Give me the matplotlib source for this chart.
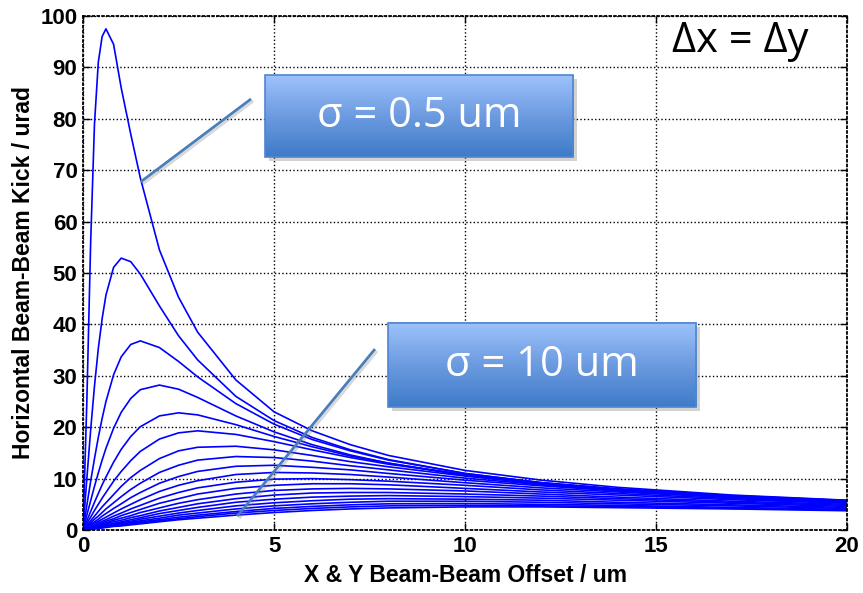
import matplotlib
matplotlib.use("Agg")
import matplotlib.pyplot as plt
import numpy as np
from matplotlib.colors import LinearSegmentedColormap
from matplotlib.patches import Rectangle
import matplotlib.patheffects as pe

plt.rcParams['font.family'] = ['Liberation Sans', 'DejaVu Sans']

# beam-beam offset (um), shared by all curves
offset = [0, 0.1, 0.2, 0.3, 0.4, 0.5, 0.6, 0.8, 1.0, 1.25, 1.5, 2, 2.5, 3, 4, 5,
          6, 7, 8, 10, 12, 14, 17, 20]

sigmas = [0.5, 1, 1.5, 2, 2.5, 3, 3.5, 4, 4.5, 5, 5.5, 6, 6.5, 7, 7.5, 8, 8.5, 9, 9.5, 10]
kick = [
    [0, 25, 56, 79, 91, 96, 97.5, 94.5, 86, 77, 68.5, 54.5, 45.3, 38.5, 29.2, 23.0, 19.3, 16.6, 14.5, 11.6, 9.7, 8.3, 6.8, 5.8],
    [0, 10.0, 19.5, 28.0, 35.3, 41.1, 45.7, 51.1, 52.9, 52.2, 49.8, 43.6, 37.8, 33.1, 26.0, 21.3, 18.0, 15.6, 13.7, 11.0, 9.2, 7.9, 6.5, 5.55],
    [0, 4.8, 9.5, 13.9, 18.0, 21.7, 25.0, 30.2, 33.7, 36.1, 36.8, 35.5, 32.8, 29.8, 24.6, 20.6, 17.6, 15.4, 13.6, 11.0, 9.2, 7.95, 6.6, 5.6],
    [0, 2.9, 5.7, 8.5, 11.1, 13.6, 15.9, 19.8, 22.9, 25.6, 27.3, 28.2, 27.4, 25.8, 22.2, 19.1, 16.6, 14.6, 13.0, 10.6, 8.9, 7.7, 6.4, 5.45],
    [0, 1.8, 3.6, 5.4, 7.1, 8.8, 10.3, 13.2, 15.7, 18.2, 20.1, 22.2, 22.8, 22.4, 20.5, 18.2, 16.2, 14.4, 13.0, 10.7, 9.1, 7.9, 6.6, 5.6],
    [0, 1.3, 2.5, 3.8, 5.0, 6.2, 7.3, 9.5, 11.4, 13.5, 15.3, 17.7, 18.9, 19.3, 18.6, 17.2, 15.6, 14.1, 12.8, 10.8, 9.2, 8.0, 6.7, 5.75],
    [0, 0.9, 1.8, 2.7, 3.6, 4.5, 5.3, 6.9, 8.5, 10.2, 11.6, 13.9, 15.4, 16.1, 16.3, 15.6, 14.5, 13.3, 12.3, 10.5, 9.0, 7.9, 6.6, 5.7],
    [0, 0.7, 1.4, 2.1, 2.7, 3.4, 4.1, 5.3, 6.5, 7.9, 9.1, 11.2, 12.6, 13.6, 14.3, 14.1, 13.4, 12.5, 11.7, 10.1, 8.8, 7.8, 6.6, 5.7],
    [0, 0.5, 1.1, 1.6, 2.1, 2.7, 3.2, 4.2, 5.1, 6.3, 7.3, 9.1, 10.4, 11.4, 12.4, 12.6, 12.2, 11.7, 11.0, 9.7, 8.6, 7.6, 6.5, 5.6],
    [0, 0.4, 0.9, 1.3, 1.7, 2.1, 2.5, 3.3, 4.1, 5.0, 5.9, 7.5, 8.7, 9.6, 10.8, 11.2, 11.1, 10.8, 10.3, 9.2, 8.2, 7.4, 6.3, 5.5],
    [0, 0.3, 0.7, 1.0, 1.4, 1.7, 2.0, 2.7, 3.3, 4.1, 4.8, 6.2, 7.3, 8.2, 9.3, 9.9, 10.0, 9.8, 9.5, 8.7, 7.8, 7.1, 6.1, 5.35],
    [0, 0.3, 0.6, 0.8, 1.1, 1.4, 1.7, 2.2, 2.8, 3.4, 4.0, 5.2, 6.1, 7.0, 8.1, 8.7, 9.0, 9.0, 8.8, 8.1, 7.4, 6.8, 5.9, 5.2],
    [0, 0.2, 0.5, 0.7, 0.9, 1.2, 1.4, 1.9, 2.3, 2.8, 3.4, 4.3, 5.2, 5.9, 7.0, 7.7, 8.0, 8.1, 8.0, 7.6, 7.0, 6.4, 5.6, 5.0],
    [0, 0.2, 0.4, 0.6, 0.8, 1.0, 1.2, 1.6, 1.9, 2.4, 2.8, 3.7, 4.4, 5.1, 6.1, 6.8, 7.2, 7.3, 7.3, 7.0, 6.6, 6.1, 5.4, 4.8],
    [0, 0.2, 0.3, 0.5, 0.7, 0.8, 1.0, 1.3, 1.6, 2.0, 2.4, 3.2, 3.8, 4.4, 5.4, 6.0, 6.4, 6.6, 6.7, 6.5, 6.2, 5.8, 5.2, 4.6],
    [0, 0.1, 0.3, 0.4, 0.6, 0.7, 0.9, 1.1, 1.4, 1.7, 2.1, 2.7, 3.3, 3.8, 4.7, 5.3, 5.7, 6.0, 6.1, 6.0, 5.8, 5.4, 4.9, 4.4],
    [0, 0.1, 0.2, 0.4, 0.5, 0.6, 0.7, 1.0, 1.2, 1.5, 1.8, 2.3, 2.9, 3.3, 4.1, 4.7, 5.1, 5.4, 5.6, 5.6, 5.4, 5.1, 4.7, 4.2],
    [0, 0.1, 0.2, 0.3, 0.4, 0.5, 0.6, 0.9, 1.1, 1.3, 1.6, 2.0, 2.5, 2.9, 3.6, 4.2, 4.6, 4.9, 5.1, 5.15, 5.0, 4.8, 4.4, 4.0],
    [0, 0.1, 0.2, 0.3, 0.4, 0.5, 0.6, 0.8, 0.9, 1.2, 1.4, 1.8, 2.2, 2.6, 3.3, 3.8, 4.2, 4.5, 4.7, 4.8, 4.7, 4.6, 4.2, 3.9],
    [0, 0.1, 0.2, 0.3, 0.3, 0.4, 0.5, 0.7, 0.8, 1.0, 1.2, 1.6, 2.0, 2.3, 2.9, 3.4, 3.8, 4.1, 4.3, 4.5, 4.5, 4.35, 4.1, 3.75],
]

fig = plt.figure(figsize=(8.63, 5.93), dpi=100)
ax = fig.add_axes([0.0962, 0.1062, 0.8853, 0.8668])

for s, k in zip(sigmas, kick):
    ax.plot(offset, k, color='#0000ff', lw=1.2, zorder=2)

ax.set_xlim(0, 20)
ax.set_ylim(0, 100)
ax.set_xticks([0, 5, 10, 15, 20])
ax.set_yticks(np.arange(0, 101, 10))
ax.grid(True, color='black', linestyle=':', linewidth=1.0)
for sp in ax.spines.values():
    sp.set_linestyle(':')
    sp.set_linewidth(1.3)
ax.tick_params(direction='in', top=True, right=True, length=5, width=1,
               labelsize=16, pad=4)
for lab in ax.get_xticklabels() + ax.get_yticklabels():
    lab.set_fontweight('bold')

ax.set_xlabel('X & Y Beam-Beam Offset / um', fontsize=16.5, fontweight='bold', labelpad=5)
ax.set_ylabel('Horizontal Beam-Beam Kick / urad', fontsize=16.5, fontweight='bold', labelpad=4)

# callout boxes with a blue gradient
cmap = LinearSegmentedColormap.from_list('box', ['#3f7bc9', '#6c9be0', '#9dc2fb'])
grad = np.linspace(0, 1, 64).reshape(-1, 1)
callouts = [
    ('\u03c3 = 0.5 um', (4.76, 12.83, 72.6, 88.5), ((4.37, 83.7), (1.54, 67.9))),
    ('\u03c3 = 10 um', (7.98, 16.05, 23.9, 40.3), ((7.62, 35.0), (4.06, 2.9))),
]
shadow = [pe.SimpleLineShadow(offset=(1.5, -1.5), shadow_color='gray', alpha=0.3), pe.Normal()]
for txt, (x0, x1, y0, y1), (p, q) in callouts:
    ax.plot([p[0], q[0]], [p[1], q[1]], color='#4a7ebb', lw=2.0, zorder=4,
            path_effects=shadow)
    ax.add_patch(Rectangle((x0 + 0.1, y0 - 0.8), x1 - x0, y1 - y0, facecolor='#808080',
                           alpha=0.35, edgecolor='none', zorder=5))
    ax.imshow(grad, extent=[x0, x1, y0, y1], origin='lower', aspect='auto',
              cmap=cmap, zorder=6)
    ax.add_patch(Rectangle((x0, y0), x1 - x0, y1 - y0, facecolor='none',
                           edgecolor='#4f86cf', lw=1.2, zorder=7))
    ax.text((x0 + x1) / 2, (y0 + y1) / 2, txt, color='white', fontsize=30,
            ha='center', va='center', zorder=8, family=['Open Sans', 'DejaVu Sans'])

ax.text(17.2, 95.1, '\u0394x = \u0394y', fontsize=30, ha='center', va='center',
        color='black', zorder=8, family=['Open Sans', 'DejaVu Sans'])

ax.set_xlim(0, 20)
ax.set_ylim(0, 100)
fig.savefig('out.png', dpi=100)
